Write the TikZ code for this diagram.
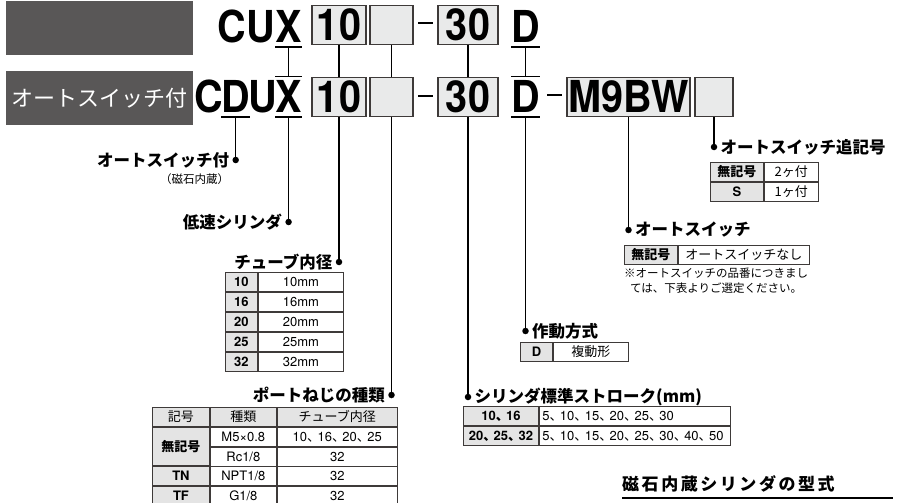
\documentclass[tikz,border=0pt]{standalone}
\usepackage{fontspec}
\setmainfont{TeX Gyre Heros}
\newfontfamily\jp{Noto Sans CJK JP}
\newfontfamily\codefont[FakeStretch=0.9]{TeX Gyre Heros}
\usetikzlibrary{positioning}

\definecolor{hdrgray}{HTML}{595757}
\definecolor{boxfill}{HTML}{E9EAEA}
\definecolor{keyfill}{HTML}{E4E4E4}
\definecolor{rule}{HTML}{3E3A39}

\newcommand{\bigcode}{\codefont\bfseries\fontsize{44}{44}\selectfont}
\newcommand{\headfont}{\jp\bfseries\fontsize{16.5}{18}\selectfont}
\newcommand{\cellfont}{\fontsize{13}{15}\selectfont}
\newcommand{\titlefont}{\jp\bfseries\fontsize{17}{19}\selectfont\addfontfeature{LetterSpace=15}}
\newcommand{\jc}{\makebox[0.8em][l]{\jp 、}}

\begin{document}
\begin{tikzpicture}[x=1pt, y=-1pt,
  hdr/.style={fill=hdrgray, inner sep=0pt, minimum width=187pt, minimum height=54pt, anchor=north west},
  code/.style={inner sep=0pt, font=\bigcode},
  codebox/.style={draw=rule, fill=boxfill, line width=1.2pt, inner sep=0pt, minimum height=39pt, font=\bigcode},
  hyph/.style={fill=black, inner sep=0pt, minimum width=15pt, minimum height=2.6pt},
  bar/.style={line width=1.4pt},
  link/.style={line width=1.3pt},
  dot/.style={circle, fill=black, inner sep=0pt, minimum size=6.5pt},
  head/.style={inner sep=0pt, font=\headfont},
  cell/.style={draw=rule, line width=0.9pt, inner sep=0pt, minimum height=19pt, font=\cellfont},
  key/.style={cell, fill=keyfill, font=\cellfont\bfseries},
  note/.style={inner sep=0pt, align=center, font=\jp\fontsize{11.5}{15}\selectfont}
]
  \useasboundingbox (0,0) rectangle (898,503);

  % header bars
  \node[hdr] (hdrA) at (6,1) {};
  \node[hdr, font=\jp\fontsize{22}{24}\selectfont, text=white] (hdrB) at (6,71) {オートスイッチ付};

  % model code, top row
  \node[code, anchor=base east] (x1) at (302,43) {X};
  \node[code, base left=0pt of x1] (cu1) {CU};
  \node[codebox, minimum width=54pt] (bore1) at (339,25) {10};
  \node[codebox, minimum width=43pt] (port1) at (391.5,25) {};
  \node[hyph] (hyA) at (425,23) {};
  \node[codebox, minimum width=60pt] (str1) at (468,25) {30};
  \node[code, anchor=base] (act1) at (525.5,43) {D};

  % model code, bottom row
  \node[code, anchor=base east] (x2) at (302,113) {X};
  \node[code, base left=-2pt of x2] (u2) {U};
  \node[code, base left=-2pt of u2] (mag2) {D};
  \node[code, base left=-2pt of mag2] (c2) {C};
  \node[codebox, minimum width=54pt] (bore2) at (339,97) {10};
  \node[codebox, minimum width=43pt] (port2) at (391.5,97) {};
  \node[hyph] (hyB) at (425,96) {};
  \node[codebox, minimum width=60pt] (str2) at (468,97) {30};
  \node[code, anchor=base] (act2) at (525.5,113) {D};
  \node[hyph] (hyC) at (554.5,95) {};
  \node[codebox, minimum width=123pt] (sw2) at (628.5,97) {M9BW};
  \node[codebox, minimum width=38pt] (num2) at (714,97) {};

  % bars over and under letters
  \draw[bar] ([yshift=-4pt]x1.south west) -- ([yshift=-4pt]x1.south east);
  \draw[bar] ([yshift=-4pt]act1.south west) -- ([yshift=-4pt]act1.south east);
  \draw[bar] ([yshift=4pt]x2.north west) -- ([yshift=4pt]x2.north east);
  \draw[bar] ([yshift=-4pt]x2.south west) -- ([yshift=-4pt]x2.south east);
  \draw[bar] ([yshift=-4pt]mag2.south west) -- ([yshift=-4pt]mag2.south east);
  \draw[bar] ([yshift=4pt]act2.north west) -- ([yshift=4pt]act2.north east);
  \draw[bar] ([yshift=-4pt]act2.south west) -- ([yshift=-4pt]act2.south east);

  % links between the rows
  \draw[link] ([yshift=-4pt]x1.south) -- ([yshift=4pt]x2.north);
  \draw[link] (bore1) -- (bore2);
  \draw[link] (port1) -- (port2);
  \draw[link] (str1) -- (str2);
  \draw[link] ([yshift=-4pt]act1.south) -- ([yshift=4pt]act2.north);

  % leader dots
  \node[dot] (dmag)  at (mag2.south |- 0,160) {};
  \node[dot] (dlow)  at (x2.south |- 0,222) {};
  \node[dot] (dbore) at (bore2.south |- 0,262) {};
  \node[dot] (dport) at (port2.south |- 0,395) {};
  \node[dot] (dstr)  at (str2.south |- 0,397) {};
  \node[dot] (dact)  at (act2.south |- 0,331) {};
  \node[dot] (dsw)   at (sw2.south |- 0,230) {};
  \node[dot] (dnum)  at (num2.south |- 0,147) {};

  \draw[link] ([yshift=-4pt]mag2.south) -- (dmag);
  \draw[link] ([yshift=-4pt]x2.south) -- (dlow);
  \draw[link] (bore2) -- (dbore);
  \draw[link] (port2) -- (dport);
  \draw[link] (str2) -- (dstr);
  \draw[link] ([yshift=-4pt]act2.south) -- (dact);
  \draw[link] (sw2) -- (dsw);
  \draw[link] (num2) -- (dnum);

  % labels
  \node[head, left=3pt of dmag] (lmag) {オートスイッチ付};
  \node[inner sep=0pt, font=\jp\fontsize{11.5}{12}\selectfont, below=5pt of lmag.south east, anchor=north east] (lmagsub) {（磁石内蔵）};
  \node[head, left=3pt of dlow] (llow) {低速シリンダ};
  \node[head, left=3pt of dbore] (lbore) {チューブ内径};
  \node[head, left=3pt of dport] (lport) {ポートねじの種類};
  \node[head, right=3pt of dstr] (lstr) {シリンダ標準ストローク(mm)};
  \node[head, right=3pt of dact] (lact) {作動方式};
  \node[head, right=3pt of dsw] (lsw) {オートスイッチ};
  \node[head, right=3pt of dnum] (lnum) {オートスイッチ追記号};

  % bore table
  \node[key, minimum width=32pt, anchor=north west] (t10) at (225,272) {10};
  \node[cell, minimum width=85pt, right=0pt of t10] (t10v) {10mm};
  \node[key, minimum width=32pt, below=0pt of t10] (t16) {16};
  \node[cell, minimum width=85pt, right=0pt of t16] (t16v) {16mm};
  \node[key, minimum width=32pt, below=0pt of t16] (t20) {20};
  \node[cell, minimum width=85pt, right=0pt of t20] (t20v) {20mm};
  \node[key, minimum width=32pt, below=0pt of t20] (t25) {25};
  \node[cell, minimum width=85pt, right=0pt of t25] (t25v) {25mm};
  \node[key, minimum width=32pt, below=0pt of t25] (t32) {32};
  \node[cell, minimum width=85pt, right=0pt of t32] (t32v) {32mm};

  % port thread table
  \node[key, font=\cellfont\jp, minimum width=57pt, anchor=north west] (pk) at (152,407) {記号};
  \node[key, font=\cellfont\jp, minimum width=66pt, right=0pt of pk] (pt) {種類};
  \node[key, font=\cellfont\jp, minimum width=120pt, right=0pt of pt] (pb) {チューブ内径};
  \node[key, font=\cellfont\jp\bfseries, minimum width=57pt, minimum height=38pt, below=0pt of pk] (pnone) {無記号};
  \node[cell, minimum width=66pt, below=0pt of pt] (pm5) {M5×0.8};
  \node[cell, minimum width=120pt, below=0pt of pb] (pm5b) {10\jc16\jc20\jc25};
  \node[cell, minimum width=66pt, below=0pt of pm5] (prc) {Rc1/8};
  \node[cell, minimum width=120pt, below=0pt of pm5b] (prcb) {32};
  \node[key, minimum width=57pt, below=0pt of pnone] (ptn) {TN};
  \node[cell, minimum width=66pt, right=0pt of ptn] (pnpt) {NPT1/8};
  \node[cell, minimum width=120pt, right=0pt of pnpt] (pnptb) {32};
  \node[key, minimum width=57pt, below=0pt of ptn] (ptf) {TF};
  \node[cell, minimum width=66pt, right=0pt of ptf] (pg) {G1/8};
  \node[cell, minimum width=120pt, right=0pt of pg] (pgb) {32};

  % stroke table
  \node[key, minimum width=75pt, anchor=north west] (s1) at (463,406) {10\jc16};
  \node[cell, text width=185pt, inner xsep=3pt, align=left, right=0pt of s1] (s1v) {5\jc10\jc15\jc20\jc25\jc30};
  \node[key, minimum width=75pt, below=0pt of s1] (s2) {20\jc25\jc32};
  \node[cell, text width=185pt, inner xsep=3pt, align=left, right=0pt of s2] (s2v) {5\jc10\jc15\jc20\jc25\jc30\jc40\jc50};

  % action table
  \node[key, minimum width=32pt, anchor=north west] (ad) at (520,342) {D};
  \node[cell, font=\cellfont\jp, minimum width=75pt, right=0pt of ad] (adv) {複動形};

  % auto switch table
  \node[key, font=\cellfont\jp\bfseries, minimum width=53pt, anchor=north west] (swk) at (624,245) {無記号};
  \node[cell, font=\cellfont\jp, minimum width=131pt, right=0pt of swk] (swv) {オートスイッチなし};
  \node[note, below=3pt of swk.south west, anchor=north west] (swnote) {※オートスイッチの品番につきまし\\ては、下表よりご選定ください。};

  % switch count table
  \node[key, font=\cellfont\jp\bfseries, minimum width=53pt, anchor=north west] (nk1) at (710,162) {無記号};
  \node[cell, font=\cellfont\jp, minimum width=54pt, right=0pt of nk1] (nv1) {2ヶ付};
  \node[key, minimum width=53pt, below=0pt of nk1] (nk2) {S};
  \node[cell, font=\cellfont\jp, minimum width=54pt, right=0pt of nk2] (nv2) {1ヶ付};

  % title
  \node[inner sep=0pt, anchor=west, font=\titlefont] (ttl) at (622,484) {磁石内蔵シリンダの型式};
  \coordinate (ttlend) at (893,498);
  \draw[line width=1.3pt] (ttl.west |- ttlend) -- (ttlend);
\end{tikzpicture}
\end{document}
